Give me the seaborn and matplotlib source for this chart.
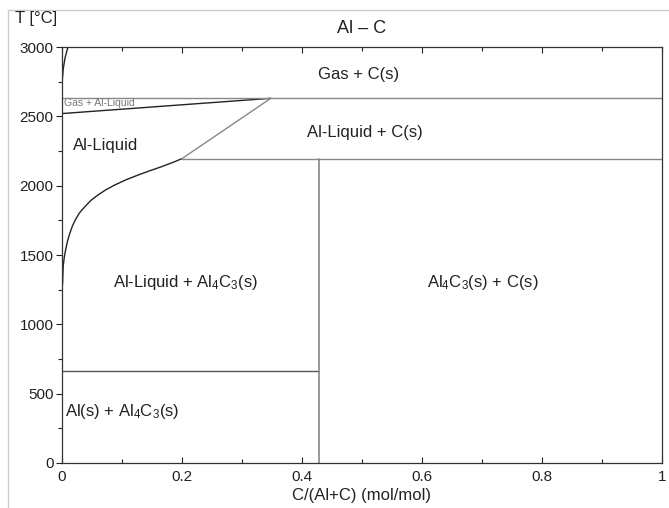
import matplotlib
matplotlib.use("Agg")
import matplotlib.pyplot as plt
import seaborn as sns
import pandas as pd
from matplotlib.ticker import MultipleLocator
from matplotlib.patches import Rectangle

# ---- data ----
# Al-Liquid / Al-Liquid + Al4C3 liquidus
liq_x = [0.0, 0.001, 0.002, 0.004, 0.006, 0.009, 0.013, 0.017, 0.022,
         0.029, 0.038, 0.048, 0.060, 0.073, 0.088, 0.107, 0.127, 0.146,
         0.166, 0.185, 0.20]
liq_T = [1250, 1300, 1420, 1490, 1536, 1598, 1656, 1705, 1752,
         1803, 1848, 1893, 1933, 1970, 2005, 2043, 2077, 2107,
         2137, 2168, 2195]
# Al-Liquid / Al-Liquid + C(s) liquidus
liqc_x = [0.20, 0.348]
liqc_T = [2195, 2630]
# lower boundary of Gas + Al-Liquid
gl_x = [0.0, 0.348]
gl_T = [2520, 2630]
# gas boundary near pure Al
gas_x = [0.0, 0.0005, 0.002, 0.005, 0.008, 0.010]
gas_T = [2630, 2760, 2840, 2920, 2970, 3000]
# invariants
T_gas_eut = 2630
T_peritectic = 2195
T_al_melt = 660
x_al4c3 = 0.4286

labels = ["Gas + C(s)", "Al-Liquid + C(s)", "Al-Liquid",
          r"Al-Liquid + Al$_4$C$_3$(s)", r"Al$_4$C$_3$(s) + C(s)",
          r"Al(s) + Al$_4$C$_3$(s)"]

sns.set_theme(style="white")
plt.rcParams['font.family'] = ['Liberation Sans', 'DejaVu Sans']
plt.rcParams['mathtext.fontset'] = 'custom'
plt.rcParams['mathtext.rm'] = 'Liberation Sans'
plt.rcParams['mathtext.it'] = 'Liberation Sans'
plt.rcParams['mathtext.default'] = 'regular'

fig = plt.figure(figsize=(6.69, 5.08), dpi=100)
ax = fig.add_axes([62/669, 45/508, 600/669, 416/508])

dark = "#222222"
gray = "#888888"

def seg(xs, ts, color, lw=0.9):
    df = pd.DataFrame({"x": xs, "T": ts})
    sns.lineplot(data=df, x="x", y="T", ax=ax, color=color, lw=lw,
                 sort=False, estimator=None)

seg(liq_x, liq_T, dark, 1.0)
seg(liqc_x, liqc_T, gray, 1.0)
seg(gl_x, gl_T, dark, 1.0)
seg(gas_x, gas_T, dark, 1.0)
seg([0, 1], [T_gas_eut, T_gas_eut], gray, 1.0)
seg([0.20, 1], [T_peritectic, T_peritectic], gray, 1.0)
seg([0, x_al4c3], [T_al_melt, T_al_melt], "#555555", 1.0)
seg([x_al4c3, x_al4c3], [0, T_peritectic], gray, 1.2)

ax.set_xlim(0, 1)
ax.set_ylim(0, 3000)
ax.set_xticks([0, 0.2, 0.4, 0.6, 0.8, 1.0])
ax.set_xticklabels(["0", "0.2", "0.4", "0.6", "0.8", "1"])
ax.xaxis.set_minor_locator(MultipleLocator(0.1))
ax.yaxis.set_major_locator(MultipleLocator(500))
ax.yaxis.set_minor_locator(MultipleLocator(250))
ax.tick_params(axis='x', which='both', direction='in', top=True, bottom=True,
               labelsize=11, colors='#222222', pad=5)
ax.tick_params(axis='y', which='both', direction='out', left=True, right=False,
               labelsize=11, colors='#222222', pad=2)
ax.tick_params(which='major', length=4, width=0.8)
ax.tick_params(which='minor', length=3, width=0.8)
for s in ax.spines.values():
    s.set_color("#333333")
    s.set_linewidth(0.9)

ax.set_xlabel("C/(Al+C) (mol/mol)", fontsize=12, color="#222222", labelpad=3)
ax.set_ylabel("")
ax.set_title("Al – C", fontsize=13, color="#222222", pad=10)
fig.text(15/669, 1 - 19/508, "T [°C]", fontsize=12, color="#222222",
         ha="left", va="center")

tc = "#222222"
ax.text(0.495, 2805, labels[0], fontsize=12, ha="center", va="center", color=tc)
ax.text(0.505, 2380, labels[1], fontsize=12, ha="center", va="center", color=tc)
ax.text(0.018, 2293, labels[2], fontsize=12, ha="left", va="center", color=tc)
ax.text(0.205, 1305, labels[3], fontsize=12, ha="center", va="center", color=tc)
ax.text(0.702, 1305, labels[4], fontsize=12, ha="center", va="center", color=tc)
ax.text(0.005, 368, labels[5], fontsize=12, ha="left", va="center", color=tc)
ax.text(0.004, 2598, "Gas + Al-Liquid", fontsize=7.5, ha="left", va="center",
        color="#777777")

# faint scan border
fig.add_artist(Rectangle((8/669, -0.01), 1.1, 1 - 10/508 + 0.01,
                         transform=fig.transFigure, fill=False,
                         edgecolor="#cccccc", lw=1.0))

fig.savefig("out.png", dpi=100)
